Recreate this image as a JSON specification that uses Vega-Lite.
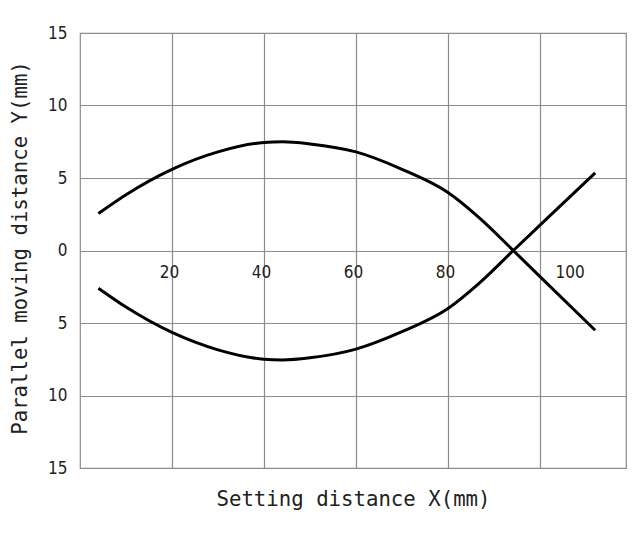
{
  "$schema": "https://vega.github.io/schema/vega-lite/v6.json",
  "width": 546,
  "height": 435,
  "autosize": {"type": "none"},
  "padding": {"left": 80, "top": 33, "right": 7, "bottom": 67},
  "background": "white",
  "config": {
    "view": {"stroke": "#8c8c8c", "strokeWidth": 1.2},
    "axis": {"labelFont": "Liberation Sans Narrow, DejaVu Sans Condensed, sans-serif", "labelFontSize": 17, "labelColor": "#222", "titleFont": "DejaVu Sans Mono", "titleFontSize": 20.7, "titleFontWeight": "normal", "titleColor": "#222", "gridColor": "#8c8c8c", "gridOpacity": 1, "gridWidth": 1.2}
  },
  "data": {
    "values": [
      {"x": 4, "y": 2.55, "s": "A"}, {"x": 10, "y": 3.85, "s": "A"}, {"x": 20, "y": 5.6, "s": "A"}, {"x": 30, "y": 6.8, "s": "A"}, {"x": 40, "y": 7.45, "s": "A"}, {"x": 44, "y": 7.5, "s": "A"}, {"x": 50, "y": 7.35, "s": "A"}, {"x": 60, "y": 6.8, "s": "A"}, {"x": 70, "y": 5.6, "s": "A"}, {"x": 80, "y": 4.0, "s": "A"}, {"x": 87, "y": 2.2, "s": "A"}, {"x": 94.2, "y": 0, "s": "A"}, {"x": 100, "y": -1.8, "s": "A"}, {"x": 112, "y": -5.5, "s": "A"},
      {"x": 4, "y": -2.6, "s": "B"}, {"x": 10, "y": -3.9, "s": "B"}, {"x": 20, "y": -5.65, "s": "B"}, {"x": 30, "y": -6.85, "s": "B"}, {"x": 40, "y": -7.5, "s": "B"}, {"x": 44, "y": -7.55, "s": "B"}, {"x": 50, "y": -7.4, "s": "B"}, {"x": 60, "y": -6.8, "s": "B"}, {"x": 70, "y": -5.6, "s": "B"}, {"x": 80, "y": -4.0, "s": "B"}, {"x": 87, "y": -2.2, "s": "B"}, {"x": 94.2, "y": 0, "s": "B"}, {"x": 100, "y": 1.75, "s": "B"}, {"x": 112, "y": 5.35, "s": "B"}
    ]
  },
  "mark": {"type": "line", "color": "black", "strokeWidth": 3, "interpolate": "monotone"},
  "encoding": {
    "x": {
      "field": "x", "type": "quantitative",
      "scale": {"domain": [0, 118.7], "nice": false, "zero": false},
      "axis": {
        "values": [20, 40, 60, 80, 100],
        "title": "Setting distance X(mm)",
        "offset": -217.5,
        "domain": false, "ticks": false, "tickSize": 0,
        "grid": true,
        "labelBaseline": "top",
        "labelPadding": 14,
        "labelAlign": {"condition": {"test": "datum.value == 100", "value": "left"}, "value": "center"},
        "labelOffset": {"condition": {"test": "datum.value == 100", "value": 15}, "value": -3},
        "titleX": 273, "titleY": 249, "titleBaseline": "middle", "titleAlign": "center"
      }
    },
    "y": {
      "field": "y", "type": "quantitative",
      "scale": {"domain": [-15, 15], "nice": false},
      "axis": {
        "values": [-15, -10, -5, 0, 5, 10, 15],
        "labelExpr": "abs(datum.value)",
        "title": "Parallel moving distance Y(mm)",
        "domain": false, "ticks": false, "tickSize": 0,
        "grid": true,
        "labelPadding": 13,
        "labelBaseline": "middle",
        "titleAngle": -90, "titleX": -60, "titleY": 214.5, "titleAlign": "center", "titleBaseline": "middle"
      }
    },
    "detail": {"field": "s"}
  }
}
